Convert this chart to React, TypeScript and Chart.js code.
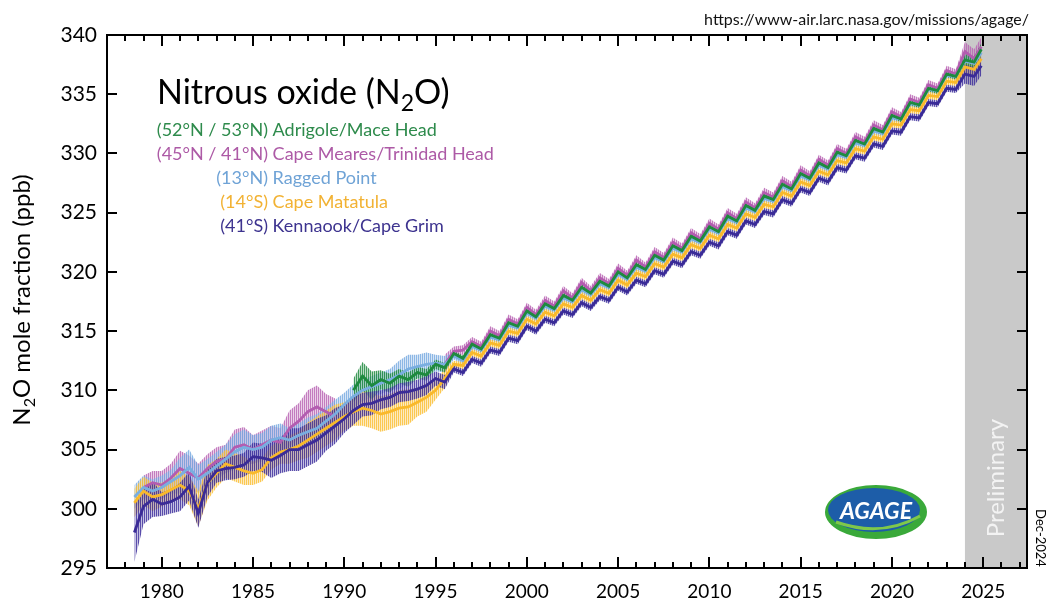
import React, { useEffect, useRef } from "react";
import { Chart, registerables } from "chart.js";

Chart.register(...registerables);

const FONT = 'Lato, "Open Sans", sans-serif';

// Time axis (decimal years)
const years = [
  1978.5, 1979, 1979.5, 1980, 1980.5, 1981, 1981.5, 1982, 1982.5, 1983, 1983.5, 1984, 1984.5,
  1985, 1985.5, 1986, 1986.5, 1987, 1987.5, 1988, 1988.5, 1989, 1989.5, 1990, 1990.5, 1991, 1991.5, 1992, 1992.5, 1993, 1993.5, 1994, 1994.5,
  1995, 1995.5, 1996, 1996.5, 1997, 1997.5, 1998, 1998.5, 1999, 1999.5, 2000, 2000.5, 2001, 2001.5, 2002, 2002.5, 2003, 2003.5, 2004, 2004.5,
  2005, 2005.5, 2006, 2006.5, 2007, 2007.5, 2008, 2008.5, 2009, 2009.5, 2010, 2010.5, 2011, 2011.5, 2012, 2012.5, 2013, 2013.5, 2014, 2014.5,
  2015, 2015.5, 2016, 2016.5, 2017, 2017.5, 2018, 2018.5, 2019, 2019.5, 2020, 2020.5, 2021, 2021.5, 2022, 2022.5, 2023, 2023.5, 2024, 2024.5, 2024.9,
];

// (41°S) Kennaook/Cape Grim
const kennaookCapeGrim = [
  298.0, 300.2, 300.8, 300.4, 300.6, 301.0, 301.9, 299.6, 302.2, 303.2, 303.4, 303.5, 303.7,
  304.4, 304.3, 304.1, 304.5, 305.0, 305.0, 305.4, 305.8, 306.4, 307.0, 307.6, 308.3, 308.8, 308.9, 309.2, 309.4, 309.8, 309.9, 310.1, 310.4,
  311.0, 310.7, 311.8, 311.5, 312.6, 312.3, 313.4, 313.2, 314.4, 314.2, 315.4, 315.0, 316.0, 315.7, 316.7, 316.4, 317.4, 317.0, 317.9, 317.6,
  318.7, 318.3, 319.3, 319.0, 320.1, 319.8, 320.9, 320.6, 321.7, 321.4, 322.5, 322.2, 323.4, 323.1, 324.3, 324.0, 325.1, 324.9, 326.1, 325.8,
  327.0, 326.7, 327.9, 327.6, 328.8, 328.6, 329.8, 329.6, 330.8, 330.6, 331.9, 331.8, 333.1, 333.0, 334.3, 334.2, 335.5, 335.4, 336.7, 336.5, 337.4,
];

// (52°N / 53°N) Adrigole/Mace Head
const adrigoleMaceHead = [
  null, null, null, null, null, null, null, null, null, null, null, null, null,
  null, null, null, null, null, null, null, null, null, null, null, 310.0, 311.2, 310.4, 310.9, 310.6, 311.2, 310.9, 311.5, 311.3,
  312.2, 311.9, 313.1, 312.7, 313.9, 313.5, 314.7, 314.4, 315.7, 315.4, 316.7, 316.2, 317.3, 316.9, 318.0, 317.6, 318.7, 318.2, 319.2, 318.8,
  320.0, 319.5, 320.6, 320.2, 321.4, 321.0, 322.2, 321.8, 323.0, 322.6, 323.8, 323.4, 324.7, 324.3, 325.6, 325.2, 326.4, 326.1, 327.4, 327.0,
  328.3, 327.9, 329.2, 328.8, 330.1, 329.8, 331.1, 330.8, 332.1, 331.8, 333.2, 332.9, 334.3, 334.1, 335.5, 335.3, 336.7, 336.5, 337.9, 337.7, 338.8,
];

// (14°S) Cape Matatula
const capeMatatula = [
  300.5, 301.5, 301.0, 301.2, 301.6, 302.0, 301.5, 300.0, 302.2, 303.0, 303.8, 303.5, 303.2,
  303.0, 303.3, 304.3, 304.8, 305.0, 305.3, 305.8, 306.3, 306.8, 307.3, 307.8, 308.2, 308.5, 308.3, 308.0, 308.2, 308.5, 308.6, 309.0, 309.4,
  310.0, 311.0, 312.2, 312.1, 313.2, 312.9, 314.0, 313.8, 315.0, 314.8, 316.0, 315.6, 316.6, 316.3, 317.3, 317.0, 318.0, 317.6, 318.5, 318.2,
  319.3, 318.9, 319.9, 319.6, 320.7, 320.4, 321.5, 321.2, 322.3, 322.0, 323.1, 322.8, 324.0, 323.7, 324.9, 324.6, 325.7, 325.5, 326.7, 326.4,
  327.6, 327.3, 328.5, 328.2, 329.4, 329.2, 330.4, 330.2, 331.4, 331.2, 332.5, 332.4, 333.7, 333.6, 334.9, 334.8, 336.1, 336.0, 337.3, 337.1, 338.0,
];

// (13°N) Ragged Point
const raggedPoint = [
  301.0, 301.8, 301.5, 301.8, 302.3, 302.8, 303.5, 302.5, 303.0, 303.6, 304.2, 304.8, 305.2,
  305.0, 305.2, 305.8, 306.0, 305.8, 306.2, 306.5, 306.8, 307.4, 308.0, 308.8, 309.5, 310.0, 310.3, 310.6, 310.9, 311.3, 311.8, 312.0, 312.2,
  312.3, 312.2, 312.9, 312.5, 313.7, 313.4, 314.5, 314.3, 315.5, 315.3, 316.5, 316.1, 317.1, 316.8, 317.8, 317.5, 318.5, 318.1, 319.0, 318.7,
  319.8, 319.4, 320.4, 320.1, 321.2, 320.9, 322.0, 321.7, 322.8, 322.5, 323.6, 323.3, 324.5, 324.2, 325.4, 325.1, 326.2, 326.0, 327.2, 326.9,
  328.1, 327.8, 329.0, 328.7, 329.9, 329.7, 330.9, 330.7, 331.9, 331.7, 333.0, 332.9, 334.2, 334.1, 335.4, 335.3, 336.6, 336.5, 337.8, 337.6, 338.5,
];

// (45°N / 41°N) Cape Meares/Trinidad Head
const capeMearesTrinidadHead = [
  null, 301.8, 302.2, 302.0, 302.6, 303.4, 303.0, 302.6, 303.4, 304.0, 304.2, 305.2, 305.4,
  305.0, 305.4, 305.8, 305.6, 306.8, 307.4, 308.2, 308.6, 308.2, 307.8, null, null, null, null, null, null, null, null, null, null,
  null, 312.2, 313.3, 313.4, 314.1, 313.7, 315.0, 314.6, 316.0, 315.6, 317.0, 316.4, 317.6, 317.1, 318.4, 317.8, 319.1, 318.4, 319.5, 319.0,
  320.3, 319.7, 321.0, 320.4, 321.7, 321.2, 322.5, 322.0, 323.3, 322.8, 324.1, 323.6, 325.0, 324.5, 325.9, 325.4, 326.7, 326.3, 327.7, 327.2,
  328.6, 328.1, 329.5, 329.0, 330.4, 330.0, 331.4, 331.0, 332.4, 332.0, 333.5, 333.1, 334.6, 334.3, 335.8, 335.5, 337.0, 336.7, 338.6, 338.0, 339.0,
];

// Half-range of the monthly variability bars, one value per calendar year 1978..2024
const spreadFirstYear = 1978;
const kennaookSpread = [
  2.5, 1.5, 1.0, 1.2, 1.2, 1.0, 1.0, 1.2, 1.5, 1.8, 1.8, 1.5, 1.2, 1.0, 0.8, 0.8, 0.8, 0.6,
  0.3, 0.3, 0.3, 0.3, 0.3, 0.3, 0.3, 0.3, 0.3, 0.3, 0.3, 0.3, 0.3, 0.3,
  0.3, 0.3, 0.3, 0.3, 0.3, 0.3, 0.3, 0.3, 0.3, 0.3, 0.3, 0.3, 0.3, 0.3, 0.8,
];
const maceHeadSpread = [
  0, 0, 0, 0, 0, 0, 0, 0, 0, 0, 0, 0, 1.0, 1.2, 0.8, 0.6, 0.5, 0.4,
  0.25, 0.25, 0.25, 0.25, 0.25, 0.25, 0.25, 0.25, 0.25, 0.25, 0.25, 0.25, 0.25, 0.25,
  0.25, 0.25, 0.25, 0.25, 0.25, 0.25, 0.25, 0.25, 0.25, 0.25, 0.25, 0.25, 0.25, 0.25, 0.5,
];
const matatulaSpread = [
  1.2, 1.2, 1.0, 1.2, 1.5, 1.2, 1.2, 1.0, 1.0, 1.2, 1.5, 1.5, 1.2, 1.5, 1.5, 1.5, 1.2, 0.8,
  0.3, 0.3, 0.3, 0.3, 0.3, 0.3, 0.3, 0.3, 0.3, 0.3, 0.3, 0.3, 0.3, 0.3,
  0.3, 0.3, 0.3, 0.3, 0.3, 0.3, 0.3, 0.3, 0.3, 0.3, 0.3, 0.3, 0.3, 0.3, 0.5,
];
const raggedSpread = [
  1.0, 1.0, 1.0, 1.5, 1.2, 1.2, 1.5, 1.2, 1.2, 1.0, 1.2, 1.2, 1.0, 0.9, 0.9, 1.2, 1.0, 0.7,
  0.3, 0.3, 0.3, 0.3, 0.3, 0.3, 0.3, 0.3, 0.3, 0.3, 0.3, 0.3, 0.3, 0.3,
  0.3, 0.3, 0.3, 0.3, 0.3, 0.3, 0.3, 0.3, 0.3, 0.3, 0.3, 0.3, 0.3, 0.3, 0.5,
];
const mearesSpread = [
  0, 1.0, 1.2, 1.5, 1.2, 1.2, 1.5, 1.2, 1.2, 1.5, 1.8, 1.5, 0, 0, 0, 0, 0, 0.8,
  0.4, 0.4, 0.4, 0.4, 0.4, 0.4, 0.4, 0.4, 0.4, 0.4, 0.4, 0.4, 0.4, 0.4,
  0.4, 0.4, 0.4, 0.4, 0.4, 0.4, 0.4, 0.4, 0.4, 0.4, 0.4, 0.4, 0.4, 0.4, 0.8,
];

const xTickValues = [1980, 1985, 1990, 1995, 2000, 2005, 2010, 2015, 2020, 2025];
const yTickValues = [295, 300, 305, 310, 315, 320, 325, 330, 335, 340];
const xMin = 1977;
const xMax = 2027.4;
const yMin = 295;
const yMax = 340;
const preliminaryFrom = 2024;

const stations = [
  { prefix: "(52°N / 53°N)", name: "Adrigole/Mace Head", values: adrigoleMaceHead, spread: maceHeadSpread, line: "#1e8a3e", text: "#2e8b4c", band: [30, 138, 62] },
  { prefix: "(45°N / 41°N)", name: "Cape Meares/Trinidad Head", values: capeMearesTrinidadHead, spread: mearesSpread, line: "#b35cb0", text: "#ad5aa6", band: [185, 100, 180] },
  { prefix: "(13°N)", name: "Ragged Point", values: raggedPoint, spread: raggedSpread, line: "#79aee0", text: "#6fa3d6", band: [120, 170, 225] },
  { prefix: "(14°S)", name: "Cape Matatula", values: capeMatatula, spread: matatulaSpread, line: "#f9b92b", text: "#f2b233", band: [250, 190, 50] },
  { prefix: "(41°S)", name: "Kennaook/Cape Grim", values: kennaookCapeGrim, spread: kennaookSpread, line: "#3a2b97", text: "#3d338f", band: [60, 45, 155] },
];

// drawing order (first = on top)
const drawOrder = [4, 0, 3, 2, 1];

function stripePattern(rgb: number[]) {
  const c = document.createElement("canvas");
  c.width = 2;
  c.height = 4;
  const g = c.getContext("2d")!;
  const [r, gg, b] = rgb;
  g.fillStyle = `rgba(${r},${gg},${b},0.85)`;
  g.fillRect(0, 0, 1, 4);
  g.fillStyle = `rgba(${r},${gg},${b},0.3)`;
  g.fillRect(1, 0, 1, 4);
  return g.createPattern(c, "repeat");
}

function richWidth(ctx: CanvasRenderingContext2D, parts: { t: string; sub?: boolean }[], size: number) {
  let w = 0;
  for (const p of parts) {
    ctx.font = `${p.sub ? Math.round(size * 0.68) : size}px ${FONT}`;
    w += ctx.measureText(p.t).width;
  }
  return w;
}

function drawRich(ctx: CanvasRenderingContext2D, parts: { t: string; sub?: boolean }[], x: number, y: number, size: number) {
  let cx = x;
  for (const p of parts) {
    const s = p.sub ? Math.round(size * 0.68) : size;
    ctx.font = `${s}px ${FONT}`;
    ctx.fillText(p.t, cx, p.sub ? y + size * 0.2 : y);
    cx += ctx.measureText(p.t).width;
  }
}

const decorPlugin = {
  id: "decor",
  beforeDatasetsDraw(chart: any) {
    const { ctx, chartArea: a, scales } = chart;
    const px = scales.x.getPixelForValue(preliminaryFrom);
    ctx.save();
    ctx.fillStyle = "#c9c9c9";
    ctx.fillRect(px, a.top, a.right - px, a.bottom - a.top);
    ctx.translate((px + a.right) / 2, 478);
    ctx.rotate(-Math.PI / 2);
    ctx.fillStyle = "#f3f3f3";
    ctx.font = `24px ${FONT}`;
    ctx.textAlign = "center";
    ctx.textBaseline = "middle";
    ctx.fillText("Preliminary", 0, 0);
    ctx.restore();
  },
  afterDatasetsDraw(chart: any) {
    const { ctx, chartArea: a, scales } = chart;
    const xs = scales.x;
    const ys = scales.y;
    ctx.save();
    ctx.strokeStyle = "#000";
    ctx.lineWidth = 2;
    ctx.strokeRect(a.left, a.top, a.right - a.left, a.bottom - a.top);
    ctx.beginPath();
    for (let yr = Math.ceil(xMin) + 1; yr <= xMax; yr++) {
      const p = Math.round(xs.getPixelForValue(yr));
      const len = yr % 5 === 0 ? 11 : 6;
      ctx.moveTo(p, a.bottom);
      ctx.lineTo(p, a.bottom - len);
      ctx.moveTo(p, a.top);
      ctx.lineTo(p, a.top + len);
    }
    for (const v of yTickValues) {
      const p = Math.round(ys.getPixelForValue(v));
      ctx.moveTo(a.left, p);
      ctx.lineTo(a.left + 10, p);
      ctx.moveTo(a.right, p);
      ctx.lineTo(a.right - 10, p);
    }
    ctx.stroke();
    ctx.restore();
  },
  afterDraw(chart: any) {
    const { ctx } = chart;
    ctx.save();
    ctx.textBaseline = "alphabetic";
    // title
    ctx.fillStyle = "#000";
    ctx.textAlign = "left";
    drawRich(ctx, [{ t: "Nitrous oxide (N" }, { t: "2", sub: true }, { t: "O)" }], 157, 104, 34);
    // station legend
    const col = 268;
    stations.forEach((s, i) => {
      const y = 136 + i * 24;
      ctx.font = `18px ${FONT}`;
      ctx.fillStyle = s.text;
      ctx.textAlign = "right";
      ctx.fillText(s.prefix, col, y);
      ctx.textAlign = "left";
      ctx.fillText(s.name, col + ctx.measureText(" ").width, y);
    });
    // source url
    ctx.fillStyle = "#111";
    ctx.font = `16px ${FONT}`;
    ctx.textAlign = "right";
    ctx.fillText("https://www-air.larc.nasa.gov/missions/agage/", 1029, 25);
    // y axis title
    const parts = [{ t: "N" }, { t: "2", sub: true }, { t: "O mole fraction (ppb)" }];
    const size = 24;
    const w = richWidth(ctx, parts, size);
    ctx.save();
    ctx.translate(30, 300);
    ctx.rotate(-Math.PI / 2);
    ctx.fillStyle = "#000";
    ctx.textAlign = "left";
    drawRich(ctx, parts, -w / 2, 0, size);
    ctx.restore();
    // date stamp
    ctx.save();
    ctx.translate(1040, 538);
    ctx.rotate(Math.PI / 2);
    ctx.fillStyle = "#000";
    ctx.font = `13px ${FONT}`;
    ctx.textAlign = "center";
    ctx.textBaseline = "middle";
    ctx.fillText("Dec-2024", 0, 0);
    ctx.restore();
    // AGAGE logo
    const cx = 876;
    const cy = 512;
    ctx.fillStyle = "#3aa93a";
    ctx.beginPath();
    ctx.ellipse(cx, cy, 51, 27, 0, 0, Math.PI * 2);
    ctx.fill();
    ctx.fillStyle = "#1d5da8";
    ctx.beginPath();
    ctx.ellipse(cx - 2, cy - 2, 46, 22, 0, 0, Math.PI * 2);
    ctx.fill();
    ctx.strokeStyle = "#7fc84a";
    ctx.lineWidth = 3;
    ctx.beginPath();
    ctx.moveTo(cx - 40, cy + 10);
    ctx.quadraticCurveTo(cx + 5, cy + 26, cx + 44, cy + 4);
    ctx.stroke();
    ctx.fillStyle = "#fff";
    ctx.font = `italic bold 23px ${FONT}`;
    ctx.textAlign = "center";
    ctx.textBaseline = "middle";
    ctx.fillText("AGAGE", cx, cy);
    ctx.restore();
  },
};

export default function App() {
  const canvasRef = useRef<HTMLCanvasElement | null>(null);

  useEffect(() => {
    if (!canvasRef.current) return;
    const lineSets: any[] = [];
    const bandSets: any[] = [];
    for (const idx of drawOrder) {
      const s = stations[idx];
      lineSets.push({
        label: s.name,
        data: years.map((x, i) => ({ x, y: s.values[i] })),
        borderColor: s.line,
        borderWidth: 2.8,
        pointRadius: 0,
        tension: 0,
        fill: false,
        spanGaps: false,
      });
    }
    for (const idx of drawOrder) {
      const s = stations[idx];
      const sp = (i: number) => s.spread[Math.floor(years[i]) - spreadFirstYear];
      bandSets.push({
        label: s.name + " hi",
        data: years.map((x, i) => ({ x, y: s.values[i] == null ? null : (s.values[i] as number) + sp(i) })),
        borderColor: "rgba(0,0,0,0)",
        borderWidth: 0,
        pointRadius: 0,
        tension: 0,
        fill: "+1",
        backgroundColor: stripePattern(s.band),
      });
      bandSets.push({
        label: s.name + " lo",
        data: years.map((x, i) => ({ x, y: s.values[i] == null ? null : (s.values[i] as number) - sp(i) })),
        borderColor: "rgba(0,0,0,0)",
        borderWidth: 0,
        pointRadius: 0,
        tension: 0,
        fill: false,
      });
    }

    const chart = new Chart(canvasRef.current, {
      type: "line",
      data: { datasets: [...lineSets, ...bandSets] },
      plugins: [decorPlugin],
      options: {
        animation: false,
        responsive: true,
        maintainAspectRatio: false,
        layout: { padding: { left: 47, right: 21, top: 35, bottom: 0 } },
        plugins: { legend: { display: false }, tooltip: { enabled: false } },
        scales: {
          x: {
            type: "linear",
            min: xMin,
            max: xMax,
            grid: { display: false, drawTicks: false },
            border: { display: false },
            afterBuildTicks: (scale: any) => {
              scale.ticks = xTickValues.map((v) => ({ value: v }));
            },
            afterFit: (scale: any) => {
              scale.height = 32;
            },
            ticks: {
              padding: 12,
              maxRotation: 0,
              autoSkip: false,
              color: "#000",
              font: { family: FONT, size: 19 },
              callback: (v: any) => String(v),
            },
          },
          y: {
            type: "linear",
            min: yMin,
            max: yMax,
            grid: { display: false, drawTicks: false },
            border: { display: false },
            afterBuildTicks: (scale: any) => {
              scale.ticks = yTickValues.map((v) => ({ value: v }));
            },
            afterFit: (scale: any) => {
              scale.width = 60;
            },
            ticks: {
              padding: 10,
              autoSkip: false,
              color: "#000",
              font: { family: FONT, size: 21 },
              callback: (v: any) => String(v),
            },
          },
        },
      } as any,
    });
    return () => chart.destroy();
  }, []);

  return (
    <div style={{ position: "fixed", left: 0, top: 0, width: 1048, height: 600, background: "#fff" }}>
      <canvas ref={canvasRef} />
    </div>
  );
}
